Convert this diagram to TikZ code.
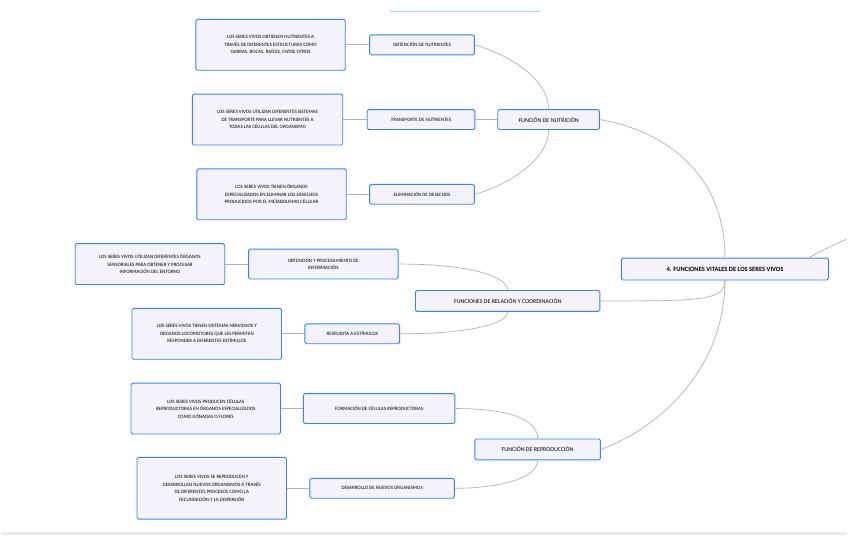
\documentclass[tikz,border=0pt]{standalone}
\usepackage{fontspec}
\setmainfont{Carlito}
\begin{document}
\begin{tikzpicture}[x=1pt,y=-1pt,
 bx/.style={draw=blue!60!cyan!80!white,line width=0.9pt,fill=cyan!5!blue!4,rounded corners=1.5pt,align=center,inner sep=0pt},
 det/.style={bx,font=\fontsize{5}{7.5}\selectfont},
 sub/.style={bx,font=\fontsize{5}{7.5}\selectfont},
 lk/.style={draw=gray!60,line width=0.7pt}]
\fill[white] (0,0) rectangle (848,527);
\draw[gray!15,line width=3pt] (0,525) -- (848,525);
\node[draw=cyan!40,line width=1pt,minimum width=150,minimum height=6,anchor=south] (top) at (465,2) {};
\fill[white] (380,-10) rectangle (560,0);
% main
\node[bx,minimum width=208,minimum height=22,font=\bfseries\fontsize{6.5}{8}\selectfont] (c) at (726,260) {4. FUNCIONES VITALES DE LOS SERES VIVOS};
\coordinate (r) at (848,230);
\draw[lk] (c.north east)+(-20,0) .. controls (820,243) .. (r);
% level 1
\node[sub,minimum width=102,minimum height=20,font=\fontsize{6}{8}\selectfont] (n) at (549,110) {FUNCIÓN DE NUTRICIÓN};
\node[sub,minimum width=185,minimum height=21,font=\fontsize{6}{8}\selectfont] (rel) at (508,292) {FUNCIONES DE RELACIÓN Y COORDINACIÓN};
\node[sub,minimum width=126,minimum height=21,font=\fontsize{6}{8}\selectfont] (rep) at (538,441) {FUNCIÓN DE REPRODUCCIÓN};
\draw[lk] (c.north) .. controls (726,160) and (660,120) .. (n.east);
\draw[lk] (c.south) .. controls (726,292) and (700,292) .. (rel.east);
\draw[lk] (c.south) .. controls (726,360) and (660,420) .. (rep.east);
% nutricion
\node[sub,minimum width=105,minimum height=20] (n1) at (422,35) {OBTENCIÓN DE NUTRIENTES};
\node[sub,minimum width=108,minimum height=20] (n2) at (421,110) {TRANSPORTE DE NUTRIENTES};
\node[sub,minimum width=105,minimum height=20] (n3) at (422,185) {ELIMINACIÓN DE DESECHOS};
\draw[lk] (n.north) .. controls (549,70) and (510,45) .. (n1.east);
\draw[lk] (n.west) -- (n2.east);
\draw[lk] (n.south) .. controls (549,150) and (510,175) .. (n3.east);
\node[det,minimum width=150,minimum height=51] (d1) at (270,35) {LOS SERES VIVOS OBTIENEN NUTRIENTES A\\TRAVÉS DE DIFERENTES ESTRUCTURAS COMO\\GARRAS, BOCAS, RAÍCES, ENTRE OTROS};
\node[det,minimum width=151,minimum height=51] (d2) at (267,110) {LOS SERES VIVOS UTILIZAN DIFERENTES SISTEMAS\\DE TRANSPORTE PARA LLEVAR NUTRIENTES A\\TODAS LAS CÉLULAS DEL ORGANISMO};
\node[det,minimum width=150,minimum height=51] (d3) at (271,185) {LOS SERES VIVOS TIENEN ÓRGANOS\\ESPECIALIZADOS EN ELIMINAR LOS DESECHOS\\PRODUCIDOS POR EL METABOLISMO CELULAR};
\draw[lk] (d1)--(n1); \draw[lk] (d2)--(n2); \draw[lk] (d3)--(n3);
% relacion
\node[sub,minimum width=150,minimum height=30] (r1) at (323,255) {OBTENCIÓN Y PROCESAMIENTO DE\\INFORMACIÓN};
\node[sub,minimum width=95,minimum height=20] (r2) at (352,325) {RESPUESTA A ESTÍMULOS};
\draw[lk] (r1.east) .. controls (480,255) and (508,270) .. (rel.north);
\draw[lk] (rel.south) .. controls (508,315) and (470,325) .. (r2.east);
\node[det,minimum width=150,minimum height=41] (d4) at (149,255) {LOS SERES VIVOS UTILIZAN DIFERENTES ÓRGANOS\\SENSORIALES PARA OBTENER Y PROCESAR\\INFORMACIÓN DEL ENTORNO};
\node[det,minimum width=150,minimum height=51] (d5) at (206,325) {LOS SERES VIVOS TIENEN SISTEMAS NERVIOSOS Y\\ÓRGANOS LOCOMOTORES QUE LES PERMITEN\\RESPONDER A DIFERENTES ESTÍMULOS};
\draw[lk] (d4)--(r1); \draw[lk] (d5)--(r2);
% reproduccion
\node[sub,minimum width=152,minimum height=30] (p1) at (379,400) {FORMACIÓN DE CÉLULAS REPRODUCTORAS};
\node[sub,minimum width=145,minimum height=20] (p2) at (382,480) {DESARROLLO DE NUEVOS ORGANISMOS};
\draw[lk] (p1.east) .. controls (520,400) and (538,415) .. (rep.north);
\draw[lk] (rep.south) .. controls (538,470) and (500,480) .. (p2.east);
\node[det,minimum width=150,minimum height=51] (d6) at (205,400) {LOS SERES VIVOS PRODUCEN CÉLULAS\\REPRODUCTORAS EN ÓRGANOS ESPECIALIZADOS\\COMO GÓNADAS O FLORES};
\node[det,minimum width=150,minimum height=62] (d7) at (211,480) {LOS SERES VIVOS SE REPRODUCEN Y\\DESARROLLAN NUEVOS ORGANISMOS A TRAVÉS\\DE DIFERENTES PROCESOS COMO LA\\FECUNDACIÓN Y LA DISPERSIÓN};
\draw[lk] (d6)--(p1); \draw[lk] (d7)--(p2);
\useasboundingbox (0,0) rectangle (848,527);
\end{tikzpicture}
\end{document}
